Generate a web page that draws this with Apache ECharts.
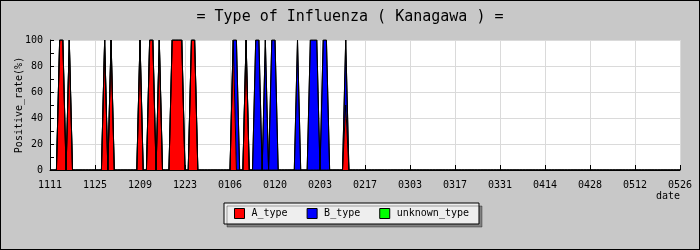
<!DOCTYPE html>
<html>
<head>
<meta charset="utf-8">
<script src="https://cdn.jsdelivr.net/npm/echarts@6/dist/echarts.min.js"></script>
<style>
html,body{margin:0;padding:0;background:#c8c8c8;}
#chart{width:698px;height:248px;border:1px solid #000;}
</style>
</head>
<body>
<div id="chart"></div>
<script>
// Reporting days (MMDD) and the share of each type (%) on those days; other days are 0
const reportDates = ['1114','1115','1117','1128','1130','1209','1212','1213','1215','1219','1220','1221','1222','1225','1226',
  '0107','0108','0111','0114','0115','0117','0119','0120','0127','0131','0201','0202','0204','0205','0211'];
const aType = [100,100,100,100,100,100,100,100,100,100,100,100,100,100,100,
  100,0,100,0,0,0,0,0,0,0,0,0,0,0,50];
const bType = [0,0,0,0,0,0,0,0,0,0,0,0,0,0,0,
  0,100,0,100,100,100,100,100,100,100,100,100,100,100,50];
const unknownType = [0,0,0,0,0,0,0,0,0,0,0,0,0,0,0,
  0,0,0,0,0,0,0,0,0,0,0,0,0,0,0];
const seriesNames = ['A_type','B_type','unknown_type'];
const seriesColors = ['#ff0000','#0000ff','#00ff00'];

// daily category axis 1111 .. 0526
const categories = [];
{
  const d = new Date(Date.UTC(2018, 10, 11));
  const end = new Date(Date.UTC(2019, 4, 26));
  while (d <= end) {
    const mm = String(d.getUTCMonth() + 1).padStart(2, '0');
    const dd = String(d.getUTCDate()).padStart(2, '0');
    categories.push(mm + dd);
    d.setUTCDate(d.getUTCDate() + 1);
  }
}
function fullSeries(vals) {
  const out = categories.map(() => 0);
  reportDates.forEach((c, i) => {
    const k = categories.indexOf(c);
    if (k >= 0) out[k] = vals[i];
  });
  return out;
}
const allVals = [aType, bType, unknownType];
const FONT = 'DejaVu Sans Mono';

const chart = echarts.init(document.getElementById('chart'), null, {renderer: 'canvas'});
chart.setOption({
  backgroundColor: '#c8c8c8',
  animation: false,
  title: {
    text: '= Type of Influenza ( Kanagawa ) =',
    left: 'center',
    top: 4,
    textStyle: {fontFamily: FONT, fontSize: 15, fontWeight: 'normal', color: '#000'}
  },
  grid: {
    left: 49, right: 19, top: 39, bottom: 79,
    outerBoundsMode: 'none',
    containLabel: false,
    show: true, backgroundColor: '#ffffff', borderWidth: 0
  },
  legend: {
    data: seriesNames,
    left: 223, top: 202,
    orient: 'horizontal',
    icon: 'rect',
    itemWidth: 10, itemHeight: 10,
    itemGap: 19,
    padding: [5, 10, 5, 10],
    backgroundColor: '#eeeeee',
    borderColor: '#000', borderWidth: 1,
    shadowColor: 'rgba(0,0,0,0.35)', shadowBlur: 0, shadowOffsetX: 3, shadowOffsetY: 3,
    itemStyle: {borderColor: '#000', borderWidth: 1},
    textStyle: {fontFamily: FONT, fontSize: 10, color: '#000', padding: [0, 0, 0, 2]}
  },
  xAxis: {
    type: 'category',
    data: categories,
    boundaryGap: false,
    name: 'date',
    nameLocation: 'end',
    nameGap: 0,
    nameTextStyle: {fontFamily: FONT, fontSize: 10, color: '#000', align: 'right', verticalAlign: 'top', padding: [21, 0, 0, 0]},
    axisLine: {lineStyle: {color: '#000', width: 1}},
    axisTick: {show: true, inside: true, length: 5, interval: 13, lineStyle: {color: '#000'}},
    axisLabel: {interval: 13, margin: 10, fontFamily: FONT, fontSize: 10, color: '#000'},
    splitLine: {show: true, interval: 13, lineStyle: {color: '#dadada', width: 1}}
  },
  yAxis: {
    type: 'value',
    min: 0, max: 100, interval: 20,
    name: 'Positive_rate(%)',
    nameLocation: 'middle',
    nameGap: 26,
    nameMoveOverlap: false,
    nameRotate: 90,
    nameTextStyle: {fontFamily: FONT, fontSize: 10, color: '#000'},
    axisLine: {show: true, lineStyle: {color: '#000', width: 1}},
    axisTick: {show: true, inside: true, length: 4, lineStyle: {color: '#000'}},
    minorTick: {show: true, splitNumber: 2, length: 4, lineStyle: {color: '#000'}},
    axisLabel: {margin: 7, fontFamily: FONT, fontSize: 10, color: '#000'},
    splitLine: {show: true, lineStyle: {color: '#dadada', width: 1}}
  },
  series: seriesNames.map((n, i) => ({
    name: n,
    type: 'line',
    stack: 'total',
    data: fullSeries(allVals[i]),
    symbol: 'none',
    itemStyle: {color: seriesColors[i]},
    lineStyle: {color: '#000', width: 1},
    areaStyle: {color: seriesColors[i], opacity: 1}
  }))
});
</script>
</body>
</html>
